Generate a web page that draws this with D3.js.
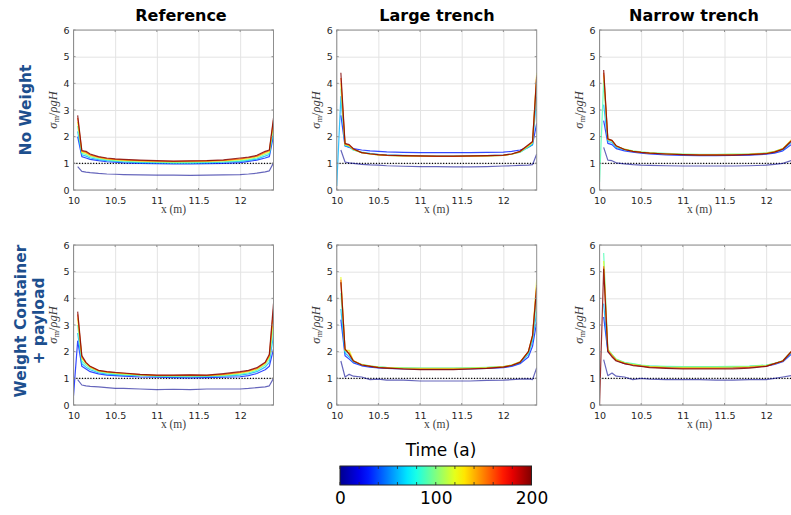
<!DOCTYPE html>
<html>
<head>
<meta charset="utf-8">
<script src="https://cdn.jsdelivr.net/npm/d3@7"></script>
<style>
  html, body { margin: 0; padding: 0; background: #ffffff; }
  svg { display: block; }
</style>
</head>
<body>
<script>
// ---------------- DATA ----------------
const xPos = [10.0, 10.05, 10.1, 10.15, 10.2, 10.3, 10.4, 10.5, 10.6, 10.8, 11.0, 11.2, 11.4, 11.6, 11.8, 12.0, 12.1, 12.2, 12.3, 12.35, 12.4];
const times = [0, 30, 60, 90, 120, 160, 200];

const colTitles = ["Reference", "Large trench", "Narrow trench"];
const rowTitles = [["No Weight"], ["Weight Container", "+ payload"]];
const xTicks = [10, 10.5, 11, 11.5, 12];
const yTicks = [0, 1, 2, 3, 4, 5, 6];
const cbTicks = [0, 20, 40, 60, 80, 100, 120, 140, 160, 180, 200];
const cbLabels = [0, 100, 200];

// Reference, No Weight
const refNoWeight = [
  [null, 0.88, 0.70, 0.67, 0.65, 0.62, 0.60, 0.59, 0.58, 0.57, 0.56, 0.56, 0.55, 0.56, 0.57, 0.58, 0.60, 0.63, 0.68, 0.72, 1.02],
  [null, 2.00, 1.25, 1.20, 1.15, 1.10, 1.06, 1.04, 1.02, 1.00, 0.99, 0.98, 0.98, 0.99, 1.00, 1.03, 1.07, 1.12, 1.20, 1.25, 2.05],
  [null, 2.20, 1.32, 1.27, 1.20, 1.14, 1.10, 1.07, 1.05, 1.03, 1.02, 1.01, 1.01, 1.02, 1.04, 1.07, 1.11, 1.16, 1.27, 1.33, 2.20],
  [null, 2.40, 1.38, 1.33, 1.25, 1.18, 1.13, 1.10, 1.08, 1.05, 1.04, 1.03, 1.03, 1.04, 1.06, 1.10, 1.14, 1.20, 1.33, 1.38, 2.35],
  [null, 2.55, 1.42, 1.38, 1.29, 1.21, 1.16, 1.13, 1.11, 1.08, 1.06, 1.05, 1.06, 1.07, 1.09, 1.14, 1.18, 1.24, 1.38, 1.43, 2.50],
  [null, 2.70, 1.46, 1.42, 1.32, 1.23, 1.18, 1.15, 1.13, 1.10, 1.08, 1.07, 1.08, 1.09, 1.11, 1.17, 1.21, 1.27, 1.42, 1.47, 2.62],
  [null, 2.80, 1.48, 1.45, 1.35, 1.25, 1.20, 1.17, 1.15, 1.12, 1.10, 1.08, 1.09, 1.10, 1.13, 1.20, 1.23, 1.30, 1.45, 1.50, 2.70]
];
// Large trench, No Weight
const largeNoWeight = [
  [null, 1.50, 1.05, 1.02, 1.00, 0.96, 0.94, 0.93, 0.91, 0.89, 0.88, 0.88, 0.87, 0.87, 0.88, 0.90, 0.91, 0.92, 0.93, 0.95, 1.35],
  [null, 2.80, 1.65, 1.60, 1.55, 1.50, 1.47, 1.45, 1.43, 1.41, 1.40, 1.40, 1.40, 1.40, 1.41, 1.42, 1.45, 1.50, 1.60, 1.70, 2.50],
  [0.15, 3.50, 1.65, 1.62, 1.50, 1.42, 1.37, 1.34, 1.32, 1.30, 1.28, 1.27, 1.27, 1.28, 1.29, 1.31, 1.35, 1.42, 1.60, 1.70, 3.50],
  [null, 3.80, 1.68, 1.64, 1.50, 1.40, 1.35, 1.32, 1.30, 1.28, 1.27, 1.26, 1.26, 1.27, 1.28, 1.30, 1.34, 1.42, 1.62, 1.75, 4.00],
  [null, 4.00, 1.70, 1.66, 1.52, 1.40, 1.35, 1.32, 1.30, 1.28, 1.27, 1.26, 1.26, 1.27, 1.28, 1.30, 1.34, 1.43, 1.65, 1.78, 4.40],
  [null, 4.20, 1.72, 1.68, 1.53, 1.40, 1.35, 1.32, 1.30, 1.28, 1.27, 1.26, 1.26, 1.27, 1.28, 1.30, 1.35, 1.44, 1.68, 1.80, 4.30],
  [null, 4.40, 1.75, 1.70, 1.55, 1.40, 1.36, 1.33, 1.31, 1.29, 1.28, 1.27, 1.27, 1.28, 1.29, 1.31, 1.35, 1.45, 1.70, 1.82, 4.25]
];
// Narrow trench, No Weight
const narrowNoWeight = [
  [null, 1.60, 1.12, 1.10, 1.02, 0.98, 0.95, 0.93, 0.92, 0.91, 0.90, 0.90, 0.90, 0.90, 0.91, 0.93, 0.96, 1.00, 1.10, null, null],
  [null, 2.60, 1.75, 1.70, 1.55, 1.47, 1.42, 1.38, 1.35, 1.32, 1.30, 1.29, 1.29, 1.30, 1.31, 1.34, 1.38, 1.47, 1.70, null, null],
  [null, 3.20, 1.82, 1.78, 1.60, 1.50, 1.45, 1.41, 1.38, 1.35, 1.33, 1.32, 1.32, 1.33, 1.34, 1.37, 1.42, 1.51, 1.78, null, null],
  [0.30, 4.10, 1.88, 1.83, 1.64, 1.53, 1.47, 1.43, 1.40, 1.37, 1.35, 1.34, 1.34, 1.35, 1.36, 1.39, 1.45, 1.55, 1.85, null, null],
  [null, 4.30, 1.90, 1.85, 1.65, 1.53, 1.46, 1.42, 1.39, 1.36, 1.34, 1.33, 1.33, 1.34, 1.35, 1.38, 1.44, 1.55, 1.88, null, null],
  [null, 4.40, 1.90, 1.85, 1.65, 1.52, 1.45, 1.41, 1.38, 1.35, 1.33, 1.32, 1.32, 1.32, 1.34, 1.37, 1.43, 1.54, 1.85, null, null],
  [null, 4.50, 1.92, 1.86, 1.66, 1.52, 1.45, 1.41, 1.38, 1.35, 1.33, 1.31, 1.31, 1.31, 1.33, 1.36, 1.42, 1.53, 1.83, null, null]
];
// Reference, Weight Container + payload
const refWeight = [
  [null, 0.95, 0.75, 0.72, 0.70, 0.68, 0.65, 0.62, 0.62, 0.60, 0.58, 0.59, 0.58, 0.60, 0.60, 0.60, 0.62, 0.65, 0.68, 0.72, 1.00],
  [0.35, 2.40, 1.45, 1.35, 1.25, 1.17, 1.12, 1.10, 1.08, 1.05, 1.04, 1.03, 1.02, 1.03, 1.04, 1.06, 1.10, 1.18, 1.32, 1.45, 2.10],
  [null, 2.70, 1.55, 1.42, 1.32, 1.21, 1.16, 1.14, 1.12, 1.10, 1.07, 1.06, 1.06, 1.07, 1.08, 1.12, 1.17, 1.25, 1.42, 1.60, 2.60],
  [null, 3.00, 1.65, 1.50, 1.38, 1.25, 1.20, 1.17, 1.15, 1.12, 1.09, 1.08, 1.08, 1.09, 1.11, 1.16, 1.21, 1.30, 1.50, 1.72, 3.00],
  [null, 3.25, 1.75, 1.56, 1.42, 1.28, 1.22, 1.19, 1.17, 1.13, 1.10, 1.10, 1.10, 1.10, 1.13, 1.19, 1.25, 1.34, 1.55, 1.80, 3.30],
  [null, 3.40, 1.80, 1.58, 1.44, 1.29, 1.24, 1.21, 1.19, 1.14, 1.11, 1.11, 1.12, 1.11, 1.15, 1.22, 1.28, 1.37, 1.58, 1.85, 3.60],
  [null, 3.50, 1.85, 1.60, 1.45, 1.30, 1.25, 1.22, 1.20, 1.15, 1.12, 1.12, 1.13, 1.12, 1.18, 1.25, 1.30, 1.40, 1.60, 1.90, 3.80]
];
// Large trench, Weight Container + payload
const largeWeight = [
  [null, 1.65, 1.05, 1.15, 1.08, 1.05, 0.95, 0.97, 0.93, 0.93, 0.90, 0.90, 0.90, 0.90, 0.92, 0.93, 0.95, 0.97, 0.98, 0.95, 1.40],
  [null, 3.20, 1.85, 1.72, 1.58, 1.47, 1.42, 1.39, 1.37, 1.35, 1.34, 1.34, 1.34, 1.35, 1.37, 1.40, 1.45, 1.55, 1.80, 2.20, 3.10],
  [null, 3.60, 1.95, 1.80, 1.62, 1.50, 1.45, 1.42, 1.40, 1.38, 1.37, 1.37, 1.37, 1.38, 1.40, 1.43, 1.48, 1.58, 1.90, 2.40, 3.50],
  [null, 4.20, 2.00, 1.95, 1.65, 1.52, 1.47, 1.43, 1.41, 1.39, 1.38, 1.38, 1.38, 1.39, 1.41, 1.44, 1.50, 1.62, 1.95, 2.50, 4.00],
  [null, 4.80, 2.05, 2.05, 1.66, 1.52, 1.46, 1.42, 1.40, 1.38, 1.37, 1.37, 1.37, 1.38, 1.40, 1.44, 1.50, 1.62, 2.00, 2.60, 4.70],
  [null, 4.70, 2.08, 1.95, 1.66, 1.51, 1.46, 1.41, 1.39, 1.36, 1.35, 1.35, 1.35, 1.36, 1.38, 1.43, 1.49, 1.61, 2.00, 2.60, 4.50],
  [null, 4.60, 2.10, 1.90, 1.65, 1.50, 1.45, 1.40, 1.38, 1.35, 1.33, 1.33, 1.33, 1.35, 1.37, 1.42, 1.48, 1.60, 2.00, 2.60, 4.40]
];
// Narrow trench, Weight Container + payload
const narrowWeight = [
  [null, 1.70, 1.10, 1.20, 1.08, 1.05, 0.95, 1.00, 0.97, 0.95, 0.95, 0.95, 0.93, 0.93, 0.95, 0.95, 1.00, 1.05, 1.10, null, null],
  [null, 3.30, 2.00, 1.85, 1.68, 1.55, 1.50, 1.46, 1.43, 1.40, 1.38, 1.38, 1.38, 1.39, 1.41, 1.46, 1.52, 1.62, 1.90, null, null],
  [null, 3.80, 2.05, 1.88, 1.70, 1.58, 1.53, 1.49, 1.46, 1.43, 1.42, 1.42, 1.42, 1.43, 1.45, 1.49, 1.55, 1.65, 1.95, null, null],
  [null, 5.70, 2.10, 1.90, 1.72, 1.60, 1.55, 1.50, 1.47, 1.45, 1.44, 1.44, 1.44, 1.45, 1.46, 1.50, 1.56, 1.66, 2.00, null, null],
  [null, 5.40, 2.08, 1.88, 1.70, 1.58, 1.52, 1.48, 1.45, 1.42, 1.41, 1.41, 1.41, 1.42, 1.44, 1.48, 1.55, 1.66, 2.00, null, null],
  [null, 5.20, 2.05, 1.85, 1.68, 1.56, 1.50, 1.46, 1.42, 1.39, 1.37, 1.37, 1.37, 1.38, 1.41, 1.46, 1.55, 1.65, 2.00, null, null],
  [0.00, 5.10, 2.00, 1.80, 1.65, 1.55, 1.48, 1.45, 1.40, 1.37, 1.35, 1.35, 1.35, 1.35, 1.38, 1.45, 1.55, 1.65, 2.00, null, null]
];

const panelData = [
  [refNoWeight, largeNoWeight, narrowNoWeight],
  [refWeight, largeWeight, narrowWeight]
];

// ---------------- LAYOUT ----------------
const W = 791, H = 515;
const colLeft = [73.5, 336.7, 599.5];
const titleX = [181, 437, 694];
const rowTop = [30, 245];
const plotW = 200, plotH = 160;

// MATLAB jet colormap
const jet = d3.scaleLinear()
  .domain([0, 25, 75, 125, 175, 200])
  .range(["#000090", "#0000ff", "#00ffff", "#ffff00", "#ff0000", "#800000"])
  .interpolate(d3.interpolateRgb);

const svg = d3.select("body").append("svg")
  .attr("width", W).attr("height", H)
  .attr("font-family", "DejaVu Sans, sans-serif");

const defs = svg.append("defs");

panelData.forEach((row, r) => {
  row.forEach((series, c) => {
    const left = colLeft[c], top = rowTop[r];
    const x = d3.scaleLinear().domain([10, 12.4]).range([left, left + plotW]);
    const y = d3.scaleLinear().domain([0, 6]).range([top + plotH, top]);
    const g = svg.append("g");
    const clipId = `clip-${r}-${c}`;
    defs.append("clipPath").attr("id", clipId)
      .append("rect").attr("x", left).attr("y", top).attr("width", plotW).attr("height", plotH);

    // grid
    const gridX = g.append("g").attr("transform", `translate(0,${top + plotH})`)
      .call(d3.axisBottom(x).tickValues(xTicks).tickSize(-plotH).tickFormat(""));
    const gridY = g.append("g").attr("transform", `translate(${left},0)`)
      .call(d3.axisLeft(y).tickValues(yTicks).tickSize(-plotW).tickFormat(""));
    [gridX, gridY].forEach(gg => {
      gg.select(".domain").remove();
      gg.selectAll("line").attr("stroke", "#e3e3e3").attr("stroke-width", 1);
    });

    // dotted reference line at 1
    g.append("line")
      .attr("x1", x(10)).attr("x2", x(12.4))
      .attr("y1", y(1)).attr("y2", y(1))
      .attr("stroke", "#000").attr("stroke-width", 1.1)
      .attr("stroke-dasharray", "1.2,1.6")
      .attr("clip-path", `url(#${clipId})`);

    // series lines
    const line = d3.line()
      .defined(d => d[1] !== null)
      .x(d => x(d[0])).y(d => y(d[1]));
    const lg = g.append("g").attr("clip-path", `url(#${clipId})`);
    series.forEach((vals, i) => {
      const pts = xPos.map((xv, k) => [xv, vals[k]]);
      lg.append("path")
        .attr("d", line(pts))
        .attr("fill", "none")
        .attr("stroke", jet(times[i]))
        .attr("stroke-opacity", i === 0 ? 0.6 : 0.8)
        .attr("stroke-width", 1.2)
        .attr("stroke-linejoin", "round");
    });

    // box
    g.append("rect")
      .attr("x", left).attr("y", top).attr("width", plotW).attr("height", plotH)
      .attr("fill", "none").attr("stroke", "#8f8f8f").attr("stroke-width", 1);

    // tick marks (inward, all sides)
    const tickLen = 2;
    xTicks.forEach(t => {
      g.append("line").attr("x1", x(t)).attr("x2", x(t)).attr("y1", top + plotH).attr("y2", top + plotH - tickLen).attr("stroke", "#8f8f8f");
      g.append("line").attr("x1", x(t)).attr("x2", x(t)).attr("y1", top).attr("y2", top + tickLen).attr("stroke", "#8f8f8f");
    });
    yTicks.forEach(t => {
      g.append("line").attr("x1", left).attr("x2", left + tickLen).attr("y1", y(t)).attr("y2", y(t)).attr("stroke", "#8f8f8f");
      g.append("line").attr("x1", left + plotW).attr("x2", left + plotW - tickLen).attr("y1", y(t)).attr("y2", y(t)).attr("stroke", "#8f8f8f");
    });

    // tick labels via axes
    const ax = g.append("g").attr("transform", `translate(0,${top + plotH})`)
      .call(d3.axisBottom(x).tickValues(xTicks).tickSize(0).tickPadding(7).tickFormat(d3.format("")));
    const ay = g.append("g").attr("transform", `translate(${left},0)`)
      .call(d3.axisLeft(y).tickValues(yTicks).tickSize(0).tickPadding(4).tickFormat(d3.format("d")));
    [ax, ay].forEach(a => {
      a.select(".domain").remove();
      a.selectAll("text").attr("font-size", 9.5).attr("fill", "#262626")
        .attr("font-family", "DejaVu Sans, sans-serif");
    });

    // x label
    g.append("text")
      .attr("x", left + plotW / 2).attr("y", top + plotH + 23)
      .attr("text-anchor", "middle")
      .attr("font-family", "Liberation Serif, serif")
      .attr("font-size", 11.5).attr("fill", "#404040")
      .text("x (m)");

    // y label
    const yl = g.append("text")
      .attr("transform", `translate(${left - 17},${top + plotH / 2}) rotate(-90)`)
      .attr("text-anchor", "middle")
      .attr("font-family", "Liberation Serif, serif")
      .attr("font-size", 12.5).attr("fill", "#404040");
    yl.append("tspan").attr("font-style", "italic").text("σ");
    yl.append("tspan").attr("font-size", 8.5).attr("dy", 2.5).text("m");
    yl.append("tspan").attr("dy", -2.5).text("/");
    yl.append("tspan").attr("font-style", "italic").text("ρgH");
  });
});

// column titles
colTitles.forEach((t, c) => {
  svg.append("text")
    .attr("x", titleX[c]).attr("y", 21)
    .attr("text-anchor", "middle")
    .attr("font-weight", "bold").attr("font-size", 16)
    .attr("fill", "#000")
    .text(t);
});

// row titles
const rowCenterY = [110, 321];
const rowLabelX = [[31], [26, 44]];
rowTitles.forEach((lines, r) => {
  lines.forEach((t, k) => {
    svg.append("text")
      .attr("transform", `translate(${rowLabelX[r][k]},${rowCenterY[r]}) rotate(-90)`)
      .attr("text-anchor", "middle")
      .attr("font-weight", "bold").attr("font-size", 15.5)
      .attr("fill", "#1d4f8e")
      .text(t);
  });
});

// colorbar
const cbX0 = 340, cbX1 = 531.5, cbY = 466, cbH = 19;
const cbScale = d3.scaleLinear().domain([0, 200]).range([cbX0, cbX1]);
const grad = defs.append("linearGradient").attr("id", "jetgrad")
  .attr("x1", "0%").attr("x2", "100%").attr("y1", "0%").attr("y2", "0%");
d3.range(0, 201, 10).forEach(v => {
  grad.append("stop").attr("offset", `${v / 2}%`).attr("stop-color", jet(v));
});
svg.append("rect")
  .attr("x", cbX0).attr("y", cbY).attr("width", cbX1 - cbX0).attr("height", cbH)
  .attr("fill", "url(#jetgrad)")
  .attr("stroke", "#262626").attr("stroke-width", 1);
cbTicks.forEach(v => {
  svg.append("line").attr("x1", cbScale(v)).attr("x2", cbScale(v))
    .attr("y1", cbY).attr("y2", cbY + 3).attr("stroke", "#262626").attr("stroke-width", 0.8);
  svg.append("line").attr("x1", cbScale(v)).attr("x2", cbScale(v))
    .attr("y1", cbY + cbH).attr("y2", cbY + cbH - 3).attr("stroke", "#262626").attr("stroke-width", 0.8);
});
const cbAxis = svg.append("g").attr("transform", `translate(0,${cbY + cbH})`)
  .call(d3.axisBottom(cbScale).tickValues(cbLabels).tickSize(0).tickPadding(7));
cbAxis.select(".domain").remove();
cbAxis.selectAll("text").attr("font-size", 17).attr("fill", "#000")
  .attr("font-family", "DejaVu Sans, sans-serif");
svg.append("text")
  .attr("x", 441).attr("y", 456)
  .attr("text-anchor", "middle")
  .attr("font-size", 17).attr("fill", "#000")
  .text("Time (a)");
</script>
</body>
</html>
